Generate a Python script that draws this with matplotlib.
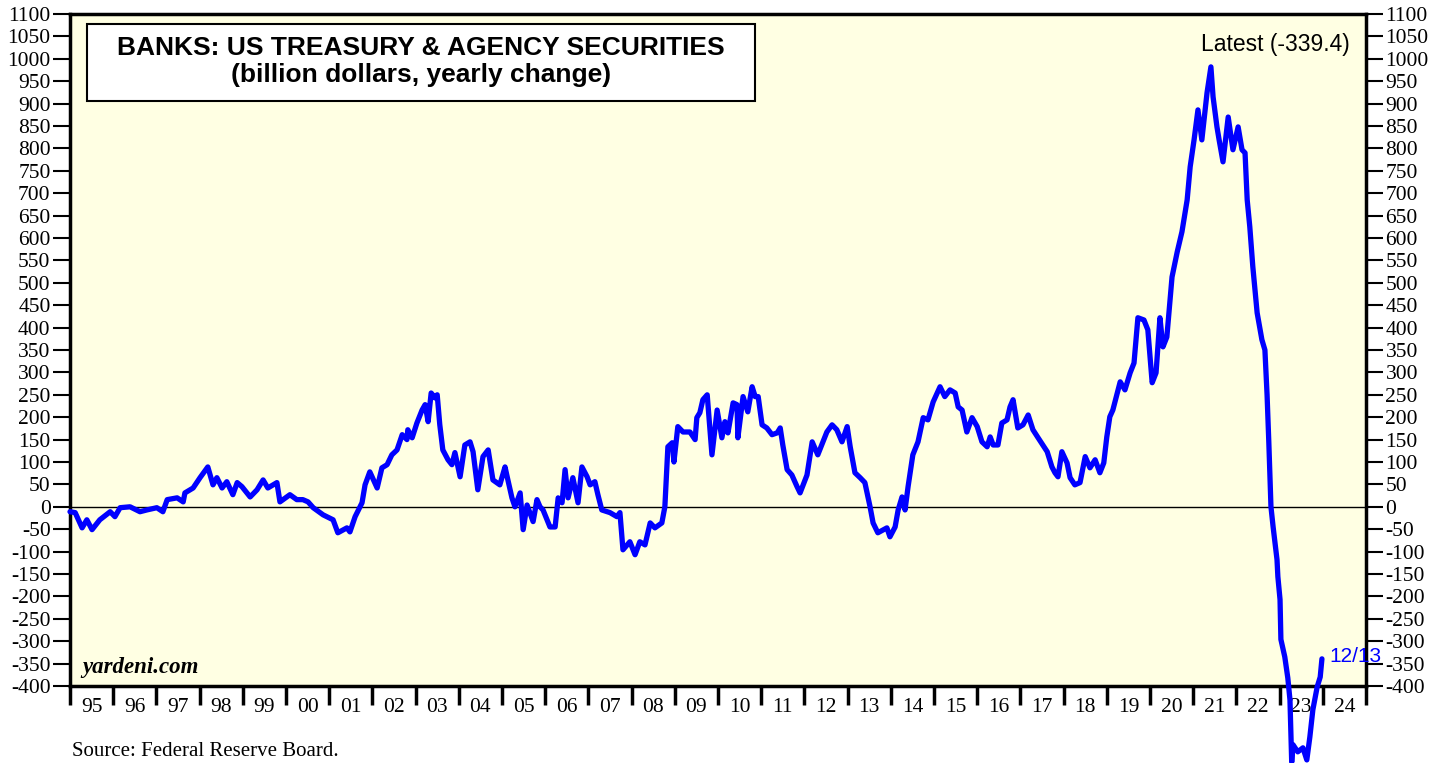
import matplotlib
matplotlib.use("Agg")
import matplotlib.pyplot as plt
from matplotlib.patches import Rectangle

# --- data (decimal year, billion $ yearly change) ---
years = [
    1995.00, 1995.12, 1995.28, 1995.39, 1995.51, 1995.69, 1995.93, 1996.04, 1996.16, 1996.39,
    1996.62, 1996.78, 1997.01, 1997.15, 1997.25, 1997.48, 1997.62, 1997.66, 1997.85, 1998.01,
    1998.19, 1998.31, 1998.40, 1998.52, 1998.63, 1998.77, 1998.87, 1998.98, 1999.17, 1999.33,
    1999.47, 1999.58, 1999.79, 1999.86, 2000.09, 2000.25, 2000.39, 2000.51, 2000.63, 2000.86,
    2001.09, 2001.20, 2001.41, 2001.48, 2001.60, 2001.76, 2001.83, 2001.94, 2002.11, 2002.22,
    2002.34, 2002.45, 2002.57, 2002.69, 2002.80, 2002.82, 2002.92, 2003.03, 2003.15, 2003.22,
    2003.29, 2003.36, 2003.45, 2003.50, 2003.56, 2003.63, 2003.75, 2003.84, 2003.91, 2004.03,
    2004.14, 2004.26, 2004.33, 2004.44, 2004.56, 2004.68, 2004.79, 2004.95, 2005.07, 2005.12,
    2005.23, 2005.30, 2005.42, 2005.49, 2005.58, 2005.72, 2005.81, 2005.88, 2005.95, 2006.11,
    2006.23, 2006.30, 2006.39, 2006.46, 2006.53, 2006.64, 2006.76, 2006.85, 2006.97, 2007.04,
    2007.15, 2007.22, 2007.31, 2007.50, 2007.66, 2007.73, 2007.80, 2007.96, 2008.08, 2008.19,
    2008.31, 2008.43, 2008.54, 2008.70, 2008.77, 2008.84, 2008.94, 2008.98, 2009.07, 2009.19,
    2009.35, 2009.47, 2009.51, 2009.58, 2009.65, 2009.75, 2009.86, 2009.98, 2010.09, 2010.16,
    2010.23, 2010.35, 2010.44, 2010.46, 2010.58, 2010.69, 2010.79, 2010.86, 2010.93, 2011.02,
    2011.13, 2011.25, 2011.37, 2011.44, 2011.50, 2011.60, 2011.71, 2011.83, 2011.90, 2012.06,
    2012.18, 2012.31, 2012.43, 2012.52, 2012.64, 2012.75, 2012.87, 2012.99, 2013.06, 2013.17,
    2013.29, 2013.40, 2013.52, 2013.59, 2013.70, 2013.91, 2013.98, 2014.10, 2014.17, 2014.26,
    2014.33, 2014.40, 2014.51, 2014.63, 2014.75, 2014.86, 2014.98, 2015.14, 2015.25, 2015.37,
    2015.49, 2015.56, 2015.65, 2015.76, 2015.88, 2016.00, 2016.11, 2016.23, 2016.30, 2016.37,
    2016.48, 2016.57, 2016.69, 2016.76, 2016.83, 2016.94, 2017.06, 2017.18, 2017.29, 2017.41,
    2017.62, 2017.73, 2017.80, 2017.87, 2017.96, 2018.08, 2018.15, 2018.26, 2018.38, 2018.50,
    2018.61, 2018.73, 2018.84, 2018.93, 2019.00, 2019.07, 2019.14, 2019.31, 2019.42, 2019.54,
    2019.63, 2019.72, 2019.86, 2019.95, 2020.05, 2020.14, 2020.23, 2020.30, 2020.39, 2020.51,
    2020.63, 2020.74, 2020.86, 2020.93, 2021.02, 2021.11, 2021.20, 2021.32, 2021.41, 2021.46,
    2021.55, 2021.60, 2021.69, 2021.81, 2021.92, 2022.04, 2022.13, 2022.20, 2022.25, 2022.31,
    2022.38, 2022.48, 2022.59, 2022.66, 2022.71, 2022.75, 2022.80, 2022.85, 2022.94, 2022.96,
    2023.01, 2023.03, 2023.12, 2023.19, 2023.24, 2023.26, 2023.28, 2023.31, 2023.42, 2023.54,
    2023.63, 2023.70, 2023.77, 2023.87, 2023.94, 2023.98,
]
values = [
    -11, -13, -47, -29, -51, -29, -11, -22, -2, 0,
    -11, -7, -2, -11, 16, 20, 11, 31, 42, 65,
    89, 49, 65, 42, 56, 27, 54, 45, 22, 38,
    60, 42, 54, 11, 27, 16, 16, 11, -2, -18,
    -29, -58, -47, -56, -22, 9, 49, 78, 42, 87,
    94, 116, 127, 161, 150, 172, 154, 187, 216, 228,
    190, 254, 243, 250, 183, 127, 105, 94, 121, 67,
    138, 145, 123, 38, 112, 127, 60, 49, 89, 67,
    20, 0, 31, -51, 4, -33, 16, 0, -7, -45,
    -45, 20, 9, 83, 20, 65, 9, 89, 67, 49,
    56, 27, -7, -13, -22, -13, -96, -78, -107, -78,
    -85, -36, -47, -36, 0, 134, 143, 100, 179, 167,
    167, 150, 199, 210, 239, 250, 116, 216, 154, 190,
    165, 232, 228, 154, 246, 212, 268, 246, 246, 183,
    176, 161, 165, 176, 138, 83, 71, 45, 31, 71,
    145, 116, 145, 167, 183, 172, 145, 179, 134, 76,
    65, 54, 0, -36, -58, -47, -67, -45, -7, 22,
    -7, 45, 116, 145, 199, 194, 234, 268, 246, 261,
    254, 223, 216, 167, 199, 179, 145, 134, 156, 138,
    138, 187, 194, 223, 239, 176, 183, 205, 172, 154,
    123, 89, 76, 67, 123, 98, 65, 49, 54, 112,
    87, 105, 76, 98, 156, 201, 216, 279, 261, 299,
    321, 422, 417, 395, 277, 299, 422, 357, 379, 513,
    569, 614, 685, 759, 819, 886, 819, 924, 982, 915,
    848, 819, 770, 870, 797, 848, 797, 790, 685, 625,
    536, 433, 373, 350, 250, 145, 0, -45, -118, -156,
    -207, -296, -335, -382, -431, -504, -570, -531, -547, -538,
    -565, -514, -453, -402, -380, -339.4,
]

year_labels = ['95', '96', '97', '98', '99', '00', '01', '02', '03', '04',
               '05', '06', '07', '08', '09', '10', '11', '12', '13', '14',
               '15', '16', '17', '18', '19', '20', '21', '22', '23', '24']
y_ticks = list(range(-400, 1101, 50))

latest_label = 'Latest (-339.4)'
date_label = '12/13'

serif = ['Liberation Serif', 'DejaVu Serif']
sans = ['Liberation Sans', 'DejaVu Sans']

fig = plt.figure(figsize=(14.48, 7.63), dpi=100)
ax = fig.add_axes([70 / 1448, 1 - 686 / 763, 1296 / 1448, 672 / 763])
ax.set_facecolor('#FFFFE3')

ax.plot(years, values, color='#0000FF', lw=3.8, clip_on=False, zorder=3,
        solid_joinstyle='round', solid_capstyle='round')
ax.axhline(0, color='black', lw=1.0, zorder=2)

ax.set_xlim(1995, 2025)
ax.set_ylim(-400, 1100)

# y axis on both sides
ax.set_yticks(y_ticks)
ax.set_yticklabels([str(v) for v in y_ticks], fontfamily=serif, fontsize=15.5)
ax.tick_params(axis='y', which='major', direction='out', length=12, width=1.5,
               left=True, right=True, labelleft=True, labelright=True, pad=2)

# x axis: ticks at year boundaries, labels mid-year
ax.set_xticks(range(1995, 2026))
ax.set_xticklabels([])
ax.set_xticks([1995.5 + i for i in range(len(year_labels))], minor=True)
ax.set_xticklabels(year_labels, minor=True, fontfamily=serif, fontsize=15.5)
ax.tick_params(axis='x', which='major', direction='out', length=14, width=2.5)
ax.tick_params(axis='x', which='minor', length=0, pad=9)

for sp in ax.spines.values():
    sp.set_linewidth(2.5)

# title box
box = Rectangle((17 / 1296, 1 - 87 / 672), 668 / 1296, 77 / 672,
                transform=ax.transAxes, facecolor='white', edgecolor='black',
                lw=1.5, zorder=4)
ax.add_patch(box)
ax.text(351 / 1296, 1 - 34 / 672, 'BANKS: US TREASURY & AGENCY SECURITIES',
        transform=ax.transAxes, ha='center', va='center', fontsize=19,
        fontweight='bold', fontfamily=sans, zorder=5)
ax.text(351 / 1296, 1 - 61 / 672, '(billion dollars, yearly change)',
        transform=ax.transAxes, ha='center', va='center', fontsize=19,
        fontweight='bold', fontfamily=sans, zorder=5)

ax.text(1 - 16 / 1296, 1 - 31 / 672, latest_label, transform=ax.transAxes,
        ha='right', va='center', fontsize=16.5, fontfamily=sans)
ax.text(years[-1] + 0.18, values[-1] + 6, date_label, color='#0000FF',
        ha='left', va='center', fontsize=15, fontfamily=sans, clip_on=False,
        zorder=5)

ax.text(12 / 1296, 8 / 672, 'yardeni.com', transform=ax.transAxes,
        ha='left', va='bottom', fontsize=16.5, fontweight='bold',
        fontstyle='italic', fontfamily=serif)

fig.text(72 / 1448, 1 - 752 / 763, 'Source: Federal Reserve Board.',
         ha='left', va='center', fontsize=15, fontfamily=serif)

fig.savefig('out.png', dpi=100, facecolor='white')
